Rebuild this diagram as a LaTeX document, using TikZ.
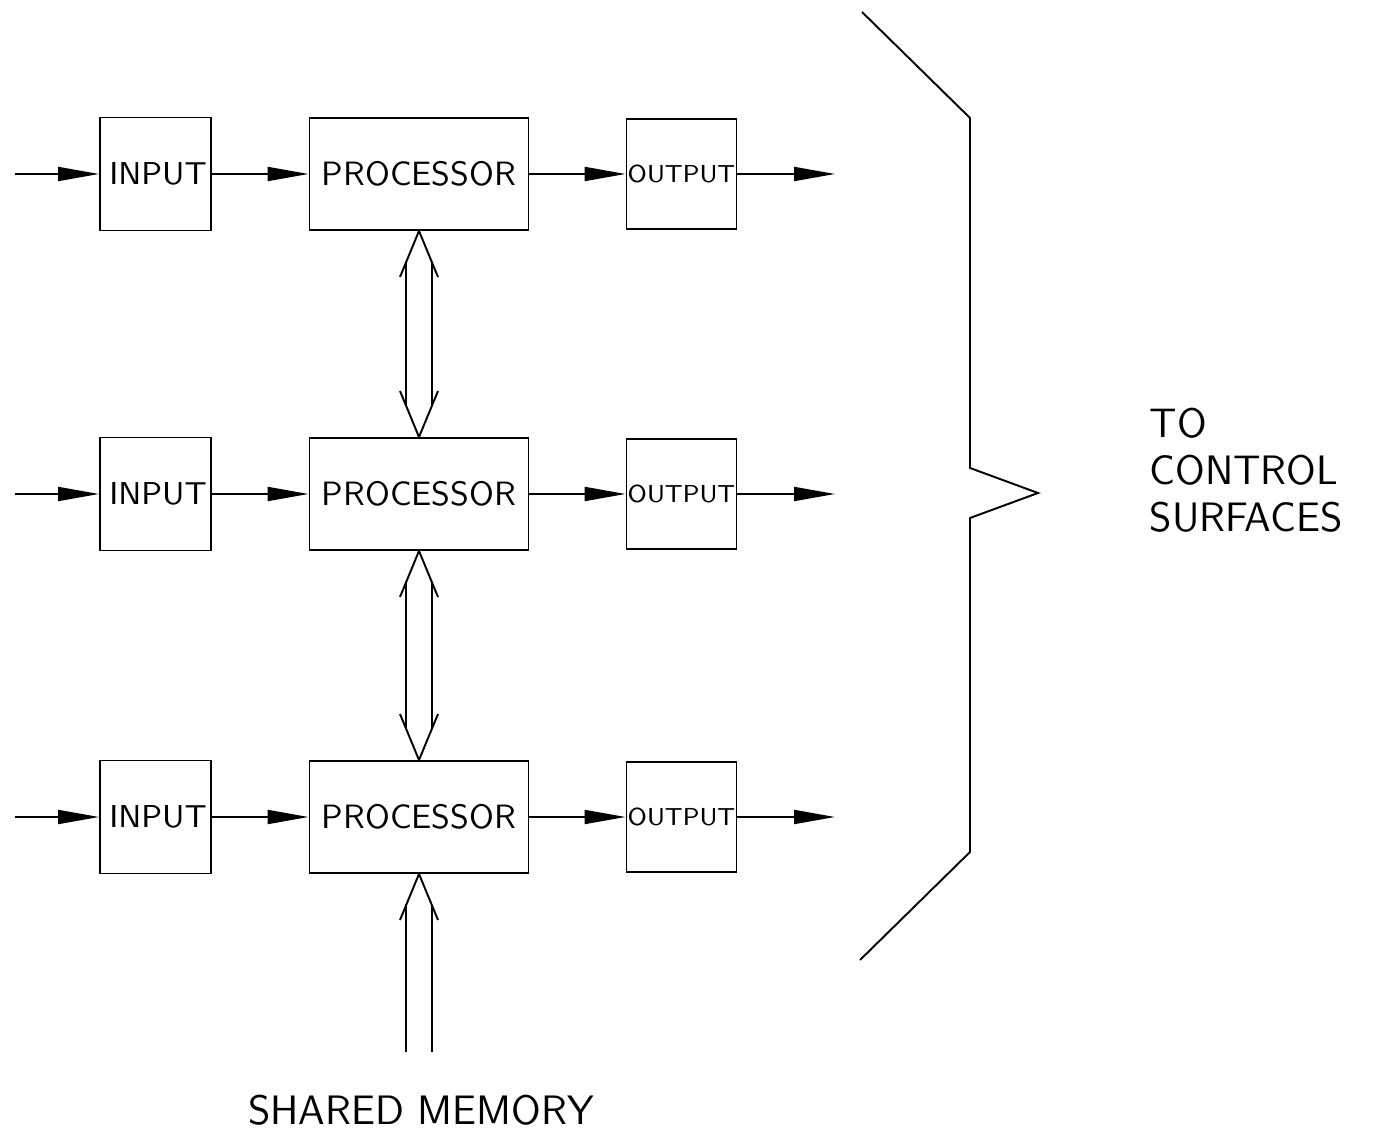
\documentclass[tikz,border=0pt]{standalone}
\usepackage{fontspec}
\usetikzlibrary{arrows.meta}

\tikzset{
  inbox/.style={draw,minimum width=1.11cm,minimum height=1.13cm,inner sep=0pt,
    font=\sffamily\fontsize{9.0}{11}\selectfont},
  procbox/.style={draw,minimum width=2.19cm,minimum height=1.12cm,inner sep=0pt,
    font=\sffamily\fontsize{9.6}{11}\selectfont\addfontfeatures{LetterSpace=8}},
  outbox/.style={draw,minimum width=1.10cm,minimum height=1.10cm,inner sep=0pt,
    font=\sffamily\fontsize{7.0}{9}\selectfont},
  bigtext/.style={font=\sffamily\fontsize{11.7}{13.4}\selectfont\addfontfeatures{LetterSpace=12}}
}

\begin{document}
\begin{tikzpicture}[x=1cm,y=1cm,>={Triangle[length=4.1mm,width=1.4mm]},line width=0.55pt]
\useasboundingbox (0,0) rectangle (13.8,11.31);
% three channels
\foreach \r/\y in {1/9.57,2/6.37,3/3.14} {
  \coordinate (src\r) at (0.15,\y);
  \node[inbox] (in\r) at (1.555,\y) {\hspace{0.5mm}INPUT};
  \node[procbox] (p\r) at (4.19,\y) {PROCESSOR};
  \node[outbox] (out\r) at (6.815,\y) {OUTPUT};
  \coordinate (dst\r) at (8.35,\y);
  \draw[->] (src\r) -- (in\r);
  \draw[->] (in\r) -- (p\r);
  \draw[->] (p\r) -- (out\r);
  \draw[->] (out\r) -- (dst\r);
}
% links between processors
\foreach \a/\b in {p1/p2,p2/p3} {
  \draw (\a.south) -- ++(-0.19,-0.46) (\a.south) -- ++(0.19,-0.46);
  \draw (\b.north) -- ++(-0.19,0.46) (\b.north) -- ++(0.19,0.46);
  \draw ([shift={(-0.13,-0.315)}]\a.south) -- ([shift={(-0.13,0.315)}]\b.north);
  \draw ([shift={(0.13,-0.315)}]\a.south) -- ([shift={(0.13,0.315)}]\b.north);
}
% shared memory
\coordinate (mem) at (4.19,0.79);
\draw (p3.south) -- ++(-0.19,-0.46) (p3.south) -- ++(0.19,-0.46);
\draw ([xshift=-1.3mm]mem) -- ([shift={(-0.13,-0.315)}]p3.south);
\draw ([xshift=1.3mm]mem) -- ([shift={(0.13,-0.315)}]p3.south);
\node[bigtext] (memlbl) at (4.21,0.21) {SHARED MEMORY};
% brace
\draw (8.62,11.19) -- (9.70,10.13) -- (9.70,6.63) -- (10.38,6.38)
  -- (9.70,6.13) -- (9.70,2.79) -- (8.60,1.71);
\node[bigtext,align=left,anchor=north west] (surf) at (11.37,7.36) {TO\\CONTROL\\SURFACES};
\end{tikzpicture}
\end{document}
